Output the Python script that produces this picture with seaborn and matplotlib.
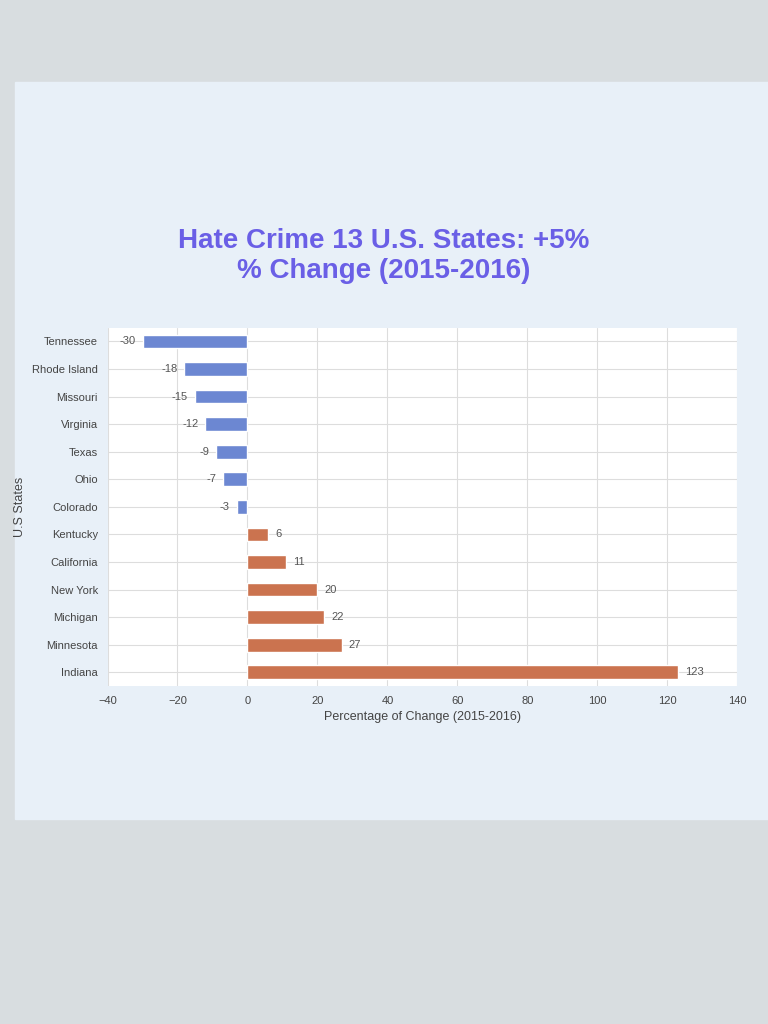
import matplotlib
matplotlib.use("Agg")
import matplotlib.pyplot as plt
import seaborn as sns
import pandas as pd

states = ["Tennessee", "Rhode Island", "Missouri", "Virginia", "Texas", "Ohio",
          "Colorado", "Kentucky", "California", "New York", "Michigan",
          "Minnesota", "Indiana"]
pct_change = [-30, -18, -15, -12, -9, -7, -3, 6, 11, 20, 22, 27, 123]
x_ticks = [-40, -20, 0, 20, 40, 60, 80, 100, 120, 140]

sns.set_style("whitegrid")
plt.rcParams['font.family'] = ['Liberation Sans', 'DejaVu Sans']

df = pd.DataFrame({'state': states, 'change': pct_change})
colors = ['#5b7fe3' if v < 0 else '#e06a3a' for v in df['change']]

fig = plt.figure(figsize=(7.68, 10.24), dpi=100)
fig.patch.set_facecolor('#d8dde0')
# slide-like panel
fig.add_artist(plt.Rectangle((0.02, 0.2), 0.98, 0.72, transform=fig.transFigure,
                             color='#e8f0f8', zorder=0))
fig.text(0.5, 0.75, "Hate Crime 13 U.S. States: +5%\n% Change (2015-2016)",
         ha='center', va='center', fontsize=20, fontweight='bold', color='#6a5fe6')

ax = fig.add_axes([0.14, 0.33, 0.82, 0.35])
sns.barplot(data=df, x='change', y='state', hue='state', palette=colors,
            legend=False, ax=ax, width=0.5, orient='h')
for i, v in enumerate(df['change']):
    ax.text(v + (2 if v > 0 else -2), i, str(v), ha='left' if v > 0 else 'right',
            va='center', fontsize=8, color='#555555')
ax.set_xlim(-40, 140)
ax.set_xticks(x_ticks)
ax.tick_params(labelsize=8, colors='#444444')
ax.set_xlabel('Percentage of Change (2015-2016)', fontsize=9, color='#444444')
ax.set_ylabel('U.S States', fontsize=9, color='#444444')
ax.grid(True, color='#dddddd')
for s in ax.spines.values():
    s.set_visible(False)

fig.savefig('out.png', dpi=100, facecolor=fig.get_facecolor())
